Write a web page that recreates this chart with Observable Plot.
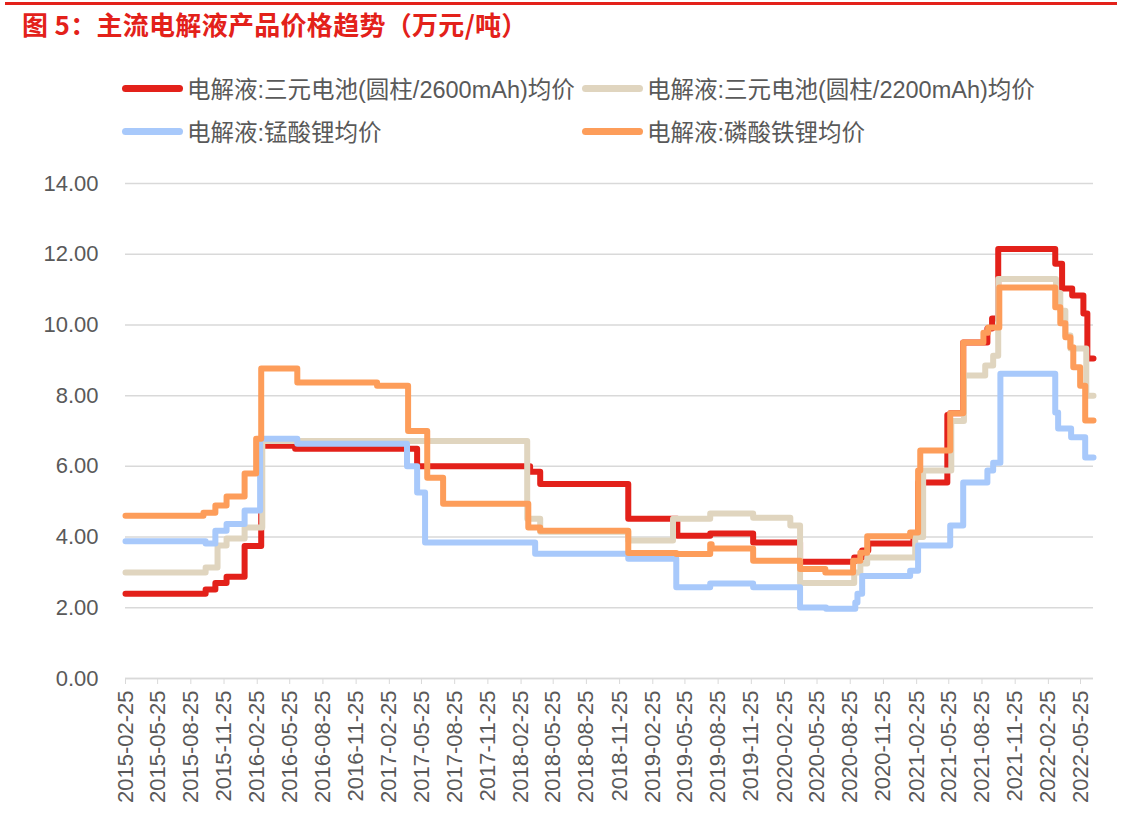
<!DOCTYPE html>
<html><head><meta charset="utf-8">
<script src="https://cdn.jsdelivr.net/npm/d3@7"></script>
<script src="https://cdn.jsdelivr.net/npm/@observablehq/plot@0.6"></script>
<style>
body{margin:0;background:#fff;width:1146px;height:822px;overflow:hidden;position:relative;font-family:"Liberation Sans","Noto Sans CJK SC",sans-serif;}
#topline{position:absolute;left:5px;top:2px;width:1112px;height:2.5px;background:#e3211a}
#title{position:absolute;left:22px;top:8px;font-weight:bold;font-size:26px;font-family:"Noto Sans CJK SC",sans-serif;color:#e3211a;line-height:32px;white-space:nowrap;letter-spacing:0.3px}
.leg{position:absolute;display:flex;align-items:center;height:30px;font-size:23.5px;color:#595959;white-space:nowrap}
.sw{width:61px;height:7px;border-radius:4px;margin-right:4px}
#chart{position:absolute;left:0;top:160px}
</style></head><body>
<div id="topline"></div>
<div id="title">图 5：主流电解液产品价格趋势（万元/吨）</div>
<div id="legend"></div>
<div id="chart"></div>
<script>
// ---- data (step series: [change date, value]) ----
const seriesNames = ["电解液:三元电池(圆柱/2600mAh)均价","电解液:三元电池(圆柱/2200mAh)均价","电解液:锰酸锂均价","电解液:磷酸铁锂均价"];
const seriesColors = ["#e3211a","#e0d5bf","#a8c9fb","#fd9d5a"];

const ncm2600 = [
["2015-02-25",2.40],["2015-10-05",2.52],["2015-11-01",2.70],["2015-12-02",2.88],["2016-01-21",3.75],
["2016-03-07",6.58],["2016-06-09",6.50],["2017-05-13",6.00],["2018-03-22",5.85],["2018-04-19",5.50],
["2018-12-19",4.52],["2019-05-04",4.04],["2019-08-03",4.10],["2019-11-30",3.85],["2020-04-08",3.30],
["2020-09-05",3.42],["2020-09-27",3.62],["2020-10-14",3.82],["2021-02-16",4.10],["2021-03-01",5.54],
["2021-05-21",7.45],["2021-05-29",7.50],["2021-07-04",9.50],["2021-09-09",9.90],["2021-09-22",10.18],
["2021-10-09",12.15],["2022-03-16",11.73],["2022-04-04",11.03],["2022-05-02",10.83],["2022-06-02",10.32],
["2022-06-13",9.05],["2022-06-30",9.05]];

const ncm2200 = [
["2015-02-25",3.00],["2015-10-05",3.14],["2015-11-07",3.76],["2015-12-02",3.96],["2016-01-21",4.27],
["2016-03-10",6.72],["2018-03-14",4.52],["2018-04-19",4.15],["2018-12-19",3.90],["2019-04-22",4.52],
["2019-08-03",4.67],["2019-11-30",4.55],["2020-03-12",4.33],["2020-04-08",2.70],["2020-09-05",3.00],
["2020-09-22",3.25],["2020-10-11",3.42],["2021-02-21",4.00],["2021-03-15",5.88],["2021-06-01",7.28],
["2021-07-06",8.57],["2021-09-03",8.85],["2021-09-25",9.13],["2021-10-09",11.30],["2022-03-18",10.90],
["2022-03-30",10.40],["2022-04-13",9.70],["2022-04-27",9.33],["2022-06-10",8.00],["2022-06-30",8.00]];

const lmo = [
["2015-02-25",3.88],["2015-10-05",3.82],["2015-11-01",4.18],["2015-12-02",4.37],["2016-01-21",4.75],
["2016-03-04",6.78],["2016-06-15",6.64],["2017-04-15",6.00],["2017-05-13",5.26],["2017-06-04",3.85],
["2018-04-05",3.53],["2018-12-19",3.39],["2019-05-01",2.58],["2019-08-03",2.69],["2019-11-30",2.58],
["2020-04-08",2.01],["2020-06-19",1.97],["2020-09-08",2.15],["2020-09-14",2.40],["2020-09-27",2.90],
["2021-02-07",3.05],["2021-03-01",3.76],["2021-05-29",4.33],["2021-07-04",5.54],["2021-09-09",5.88],
["2021-09-25",6.10],["2021-10-15",8.62],["2022-03-16",7.52],["2022-03-24",7.07],["2022-04-29",6.82],
["2022-06-07",6.25],["2022-06-30",6.25]];

const lfp = [
["2015-02-25",4.60],["2015-09-29",4.69],["2015-11-01",4.89],["2015-12-02",5.15],["2016-01-21",5.80],
["2016-02-22",6.78],["2016-03-07",8.77],["2016-06-15",8.37],["2017-01-22",8.28],["2017-04-18",7.00],
["2017-06-10",5.68],["2017-07-24",4.94],["2018-03-17",4.27],["2018-04-19",4.18],["2018-12-19",3.55],
["2019-05-01",3.52],["2019-08-03",3.80],["2019-08-07",3.68],["2019-11-30",3.33],["2020-04-08",3.10],
["2020-06-17",3.00],["2020-09-02",3.33],["2020-09-22",3.56],["2020-10-11",4.02],["2021-02-07",4.13],
["2021-03-01",5.88],["2021-03-07",6.45],["2021-05-29",7.50],["2021-07-04",9.50],["2021-08-29",9.78],
["2021-09-11",9.93],["2021-10-12",11.06],["2022-03-16",10.50],["2022-03-30",10.05],["2022-04-13",9.65],
["2022-04-27",9.37],["2022-05-05",8.80],["2022-05-24",8.28],["2022-06-07",7.30],["2022-06-30",7.30]];

const xTickLabels = ["2015-02-25","2015-05-25","2015-08-25","2015-11-25","2016-02-25","2016-05-25","2016-08-25","2016-11-25",
"2017-02-25","2017-05-25","2017-08-25","2017-11-25","2018-02-25","2018-05-25","2018-08-25","2018-11-25",
"2019-02-25","2019-05-25","2019-08-25","2019-11-25","2020-02-25","2020-05-25","2020-08-25","2020-11-25",
"2021-02-25","2021-05-25","2021-08-25","2021-11-25","2022-02-25","2022-05-25"];
const yTicks = [0,2,4,6,8,10,12,14];
const xDomain = ["2015-02-25","2022-06-30"];

// ---- build ----
const parse = s => new Date(s + "T00:00:00Z");
const allSeries = [ncm2600, ncm2200, lmo, lfp];

// legend
const leg = document.getElementById("legend");
const legPos = [[122,73],[582,73],[122,116],[582,116]];
seriesNames.forEach((n,i)=>{
  const d = document.createElement("div");
  d.className="leg"; d.style.left=legPos[i][0]+"px"; d.style.top=legPos[i][1]+"px";
  d.innerHTML = `<div class="sw" style="background:${seriesColors[i]}"></div><span>${n}</span>`;
  leg.appendChild(d);
});

const lineMarks = allSeries.map((s,i)=>Plot.line(s.map(([d,v])=>({date:parse(d),value:v})),{
  x:"date", y:"value", curve:"step-after", stroke:seriesColors[i], strokeWidth:6,
  strokeLinejoin:"round", strokeLinecap:"round"}));

const plot = Plot.plot({
  width:1146, height:662,
  marginLeft:125, marginRight:53, marginTop:23, marginBottom:144,
  style:{fontFamily:'"Liberation Sans", Arial, sans-serif', fontSize:"22px", color:"#595959", background:"transparent", overflow:"visible"},
  x:{type:"utc", domain:xDomain.map(parse)},
  y:{domain:[0,14]},
  marks:[
    Plot.gridY(yTicks,{stroke:"#d9d9d9", strokeOpacity:1, strokeWidth:1.5}),
    Plot.axisY(yTicks,{tickSize:0, tickPadding:27, tickFormat:d3.format(".2f"), label:null, fill:"#595959"}),
    Plot.axisX(xTickLabels.map(parse),{tickSize:6, stroke:"#d9d9d9", strokeOpacity:1, tickRotate:-90, tickPadding:6,
      tickFormat:d3.utcFormat("%Y-%m-%d"), label:null, fill:"#595959"}),
    Plot.ruleY([0],{stroke:"#d9d9d9", strokeWidth:1.5}),
    ...lineMarks
  ]
});
document.getElementById("chart").appendChild(plot);
</script>
</body></html>
